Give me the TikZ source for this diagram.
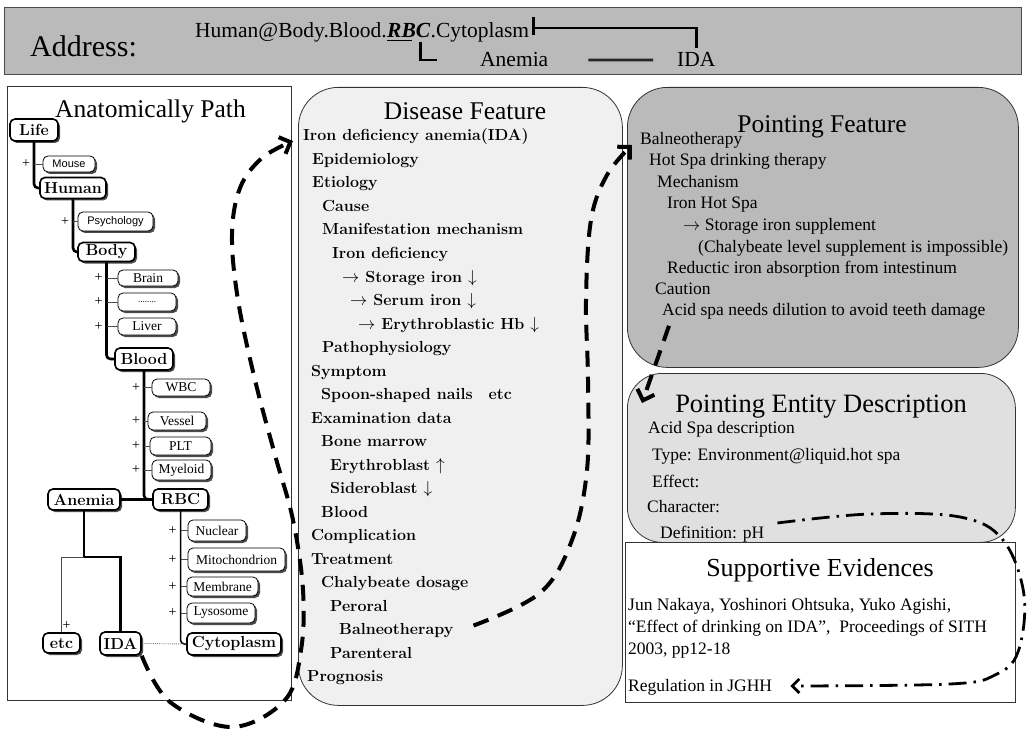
\documentclass[tikz,border=0pt]{standalone}
\usepackage{fontspec}
\newfontfamily\tms{Liberation Serif}
\newfontfamily\gth{Liberation Sans}
\usetikzlibrary{arrows.meta,shadows,calc}

\begin{document}
\begin{tikzpicture}[x=1pt,y=-1pt,
  panel/.style={draw=black!80, line width=0.8pt, inner sep=0pt, anchor=north west},
  nodeshadow/.style={drop shadow={shadow xshift=2pt, shadow yshift=-2pt, fill=black!70, opacity=1}},
  bignode/.style={draw, line width=1.6pt, rounded corners=5pt, fill=white, inner sep=0pt,
    font=\fontsize{16}{16}\selectfont\bfseries, nodeshadow},
  smallnode/.style={draw, line width=0.8pt, rounded corners=5pt, fill=white, inner sep=0pt,
    font=\tms\fontsize{13.5}{13.5}\selectfont, nodeshadow},
  sansnode/.style={smallnode, font=\gth\fontsize{11}{11}\selectfont},
  spine/.style={line width=2.6pt, rounded corners=4pt},
  branch/.style={line width=0.5pt, black!70},
  plussign/.style={font=\tms\fontsize{14}{14}\selectfont, inner sep=0pt},
  dtext/.style={anchor=base west, inner sep=0pt, font=\fontsize{16}{16}\selectfont\bfseries},
  ttext/.style={anchor=base west, inner sep=0pt, font=\tms\fontsize{17.5}{17.5}\selectfont},
  paneltitle/.style={anchor=base, inner sep=0pt, font=\tms\fontsize{25.5}{25.5}\selectfont},
  addrtext/.style={anchor=base west, inner sep=0pt, font=\tms\fontsize{21.5}{21.5}\selectfont},
  addrline/.style={line width=2.8pt},
  bigdash/.style={line width=4pt, dash pattern=on 16pt off 10pt,
    -{Straight Barb[length=9pt,width=18pt]}},
  dashdot/.style={line width=2.8pt, dash pattern=on 18pt off 7pt on 2.5pt off 7pt,
    -{Straight Barb[length=7pt,width=14pt]}}
]
\useasboundingbox (0,0) rectangle (1028,730);
\fill[white] (0,0) rectangle (1028,730);

% ---------- address bar ----------
\node[panel, draw=black!70, fill=black!27, minimum width=1017, minimum height=67] (addrbar) at (4,7) {};
\node[anchor=base west, inner sep=0pt, font=\tms\fontsize{30}{30}\selectfont] (addrlabel) at (30,57) {Address:};
\node[addrtext] (addr1) at (195,38) {Human@Body.Blood.};
\node[addrtext, font=\tms\fontsize{21.5}{21.5}\selectfont\bfseries\itshape] (arbc) at (addr1.base east) {RBC};
\node[addrtext] (addr2) at (arbc.base east) {.Cytoplasm};
\node[addrtext] (anA) at (480,67) {Anemia};
\node[addrtext] (idaA) at (677,67) {IDA};
\draw[line width=1.3pt] ($(arbc.base west)+(0,2.5)$) -- ($(arbc.base west)+(25,2.5)$);
\draw[addrline] ($(arbc.base east)+(-10,4)$) -- ($(arbc.base east)+(-10,22)$) -- ($(arbc.base east)+(7,22)$);
\draw[addrline] ($(addr2.base east)+(4,-21)$) -- ($(addr2.base east)+(4,-3)$);
\coordinate (tick) at ($(addr2.base east)+(4,-10)$);
\draw[addrline, shorten >=5pt] (tick) -| (idaA.north);
\draw[addrline, black!85, shorten <=40pt, shorten >=24pt] (anA.east) -- (idaA.west);

% ---------- panels ----------
\node[panel, minimum width=284, minimum height=614] (anat) at (7,86) {};
\node[panel, fill=black!6, rounded corners=40pt, minimum width=324, minimum height=618] (dis) at (298,87) {};
\node[panel, fill=black!27, rounded corners=40pt, minimum width=391, minimum height=280] (pf) at (627,87) {};
\node[panel, fill=black!12, rounded corners=35pt, minimum width=388, minimum height=169] (ed) at (627,373) {};
\node[panel, fill=white, minimum width=390, minimum height=160] (se) at (625,542) {};

\node[paneltitle] (anattitle) at (150.5,118) {Anatomically Path};
\node[paneltitle] (distitle) at (465,120) {Disease Feature};
\node[paneltitle] (pftitle) at (822,133) {Pointing Feature};
\node[paneltitle, font=\tms\fontsize{26.5}{26.5}\selectfont] (edtitle) at (821,412) {Pointing Entity Description};
\node[paneltitle, font=\tms\fontsize{26}{26}\selectfont] (setitle) at (820,576) {Supportive Evidences};

% ---------- anatomical tree ----------
\node[bignode, minimum width=48, minimum height=22] (life) at (34,130) {Life};
\node[sansnode, minimum width=52, minimum height=16] (mouse) at (69,164) {Mouse};
\node[bignode, minimum width=66, minimum height=21] (human) at (73,188) {Human};
\node[sansnode, minimum width=75, minimum height=19] (psych) at (115.5,221.5) {Psychology};
\node[bignode, minimum width=57, minimum height=19] (body) at (106.5,252) {Body};
\node[smallnode, minimum width=60, minimum height=16] (brain) at (148,278) {Brain};
\node[smallnode, minimum width=58, minimum height=18, font=\tms\fontsize{9}{9}\selectfont] (dots) at (147,302) {........};
\node[smallnode, minimum width=58, minimum height=17] (liver) at (147,326.5) {Liver};
\node[bignode, minimum width=58, minimum height=22] (blood) at (144,359) {Blood};
\node[smallnode, minimum width=58, minimum height=17] (wbc) at (181,387.5) {WBC};
\node[smallnode, minimum width=58, minimum height=18] (vessel) at (177,421) {Vessel};
\node[smallnode, minimum width=61, minimum height=18] (plt) at (180.5,446) {PLT};
\node[smallnode, minimum width=59, minimum height=20] (myeloid) at (181.5,470) {Myeloid};
\node[bignode, minimum width=72, minimum height=21] (anemia) at (84,499.5) {Anemia};
\node[bignode, minimum width=55, minimum height=21] (rbc) at (180.5,499.5) {RBC};
\node[smallnode, minimum width=58, minimum height=21] (nuclear) at (217,530.5) {Nuclear};
\node[smallnode, minimum width=97, minimum height=23] (mito) at (236.5,559.5) {Mitochondrion};
\node[smallnode, minimum width=71, minimum height=19] (membrane) at (222.5,586.5) {Membrane};
\node[smallnode, minimum width=68, minimum height=20] (lysosome) at (221,613) {Lysosome};
\node[bignode, minimum width=37, minimum height=20] (etc) at (61.5,643) {etc};
\node[bignode, minimum width=41, minimum height=23] (ida) at (120.5,643.5) {IDA};
\node[bignode, minimum width=94, minimum height=22] (cyto) at (234,644) {Cytoplasm};

% main path of the hierarchy
\draw[spine] (life.south) |- (human.west);
\draw[spine] (human.south) |- (body.west);
\draw[spine] (body.south) |- (blood.west);
\draw[spine] (blood.south) |- (rbc.west);
\draw[spine] (anemia.east) -- (rbc.west);
\draw[spine, line width=1.5pt] (rbc.south) |- (cyto.west);
\coordinate (fork) at (84,557);
\draw[spine, rounded corners=0pt] (anemia.south) -- (fork) -| (ida.north);
\draw[branch] (fork) -| (etc.north);
\draw[black!50, densely dotted, line width=0.9pt] (ida.east) -- (cyto.west);
\node[plussign] (petc) at ($(etc.north)+(5,-7)$) {+};

% side branches with their "+" markers
\foreach \n/\p in {mouse/life, psych/human, brain/body, dots/body, liver/body,
                   wbc/blood, vessel/blood, plt/blood, myeloid/blood,
                   nuclear/rbc, mito/rbc, membrane/rbc, lysosome/rbc}{
  \draw[branch] (\n.west -| \p.south) -- (\n.west);
  \node[plussign] (plus-\n) at ($(\n.west -| \p.south)+(-8,0)$) {+};
}

% ---------- disease feature ----------
\node[dtext] (d1) at (303,141) {Iron deficiency anemia(IDA)};
\node[dtext] (d2) at (312,164.5) {Epidemiology};
\node[dtext] (d3) at (312,188) {Etiology};
\node[dtext] (d4) at (322,211.5) {Cause};
\node[dtext] (d5) at (322,235) {Manifestation mechanism};
\node[dtext] (d6) at (332,258.5) {Iron deficiency};
\node[dtext] (d7) at (342,282) {$\rightarrow$ Storage iron $\downarrow$};
\node[dtext] (d8) at (350,305.5) {$\rightarrow$ Serum iron $\downarrow$};
\node[dtext] (d9) at (358,329) {$\rightarrow$ Erythroblastic Hb $\downarrow$};
\node[dtext] (d10) at (322,352.5) {Pathophysiology};
\node[dtext] (d11) at (311,376) {Symptom};
\node[dtext] (d12) at (321,399.5) {Spoon-shaped nails\quad etc};
\node[dtext] (d13) at (311,423) {Examination data};
\node[dtext] (d14) at (321,446.5) {Bone marrow};
\node[dtext] (d15) at (330,470) {Erythroblast $\uparrow$};
\node[dtext] (d16) at (330,493.5) {Sideroblast $\downarrow$};
\node[dtext] (d17) at (321,517) {Blood};
\node[dtext] (d18) at (311,540.5) {Complication};
\node[dtext] (d19) at (311,564) {Treatment};
\node[dtext] (d20) at (321,587.5) {Chalybeate dosage};
\node[dtext] (d21) at (330,611) {Peroral};
\node[dtext] (d22) at (339,634.5) {Balneotherapy};
\node[dtext] (d23) at (330,658) {Parenteral};
\node[dtext] (d24) at (307,681.5) {Prognosis};

% ---------- pointing feature ----------
\node[ttext] (p1) at (640,145) {Balneotherapy};
\node[ttext] (p2) at (649,166) {Hot Spa drinking therapy};
\node[ttext] (p3) at (657,188) {Mechanism};
\node[ttext] (p4) at (667,209) {Iron Hot Spa};
\node[ttext] (p5) at (683,230) {$\rightarrow$ Storage iron supplement};
\node[ttext] (p6) at (698,252) {(Chalybeate level supplement is impossible)};
\node[ttext] (p7) at (667,273) {Reductic iron absorption from intestinum};
\node[ttext] (p8) at (655,294) {Caution};
\node[ttext] (p9) at (662,315) {Acid spa needs dilution to avoid teeth damage};

% ---------- pointing entity description ----------
\node[ttext] (e1) at (648,433) {Acid Spa description};
\node[ttext] (e2) at (652,460) {Type: Environment@liquid.hot spa};
\node[ttext] (e3) at (652,487) {Effect:};
\node[ttext] (e4) at (647,512) {Character:};
\node[ttext] (e5) at (660,538) {Definition: pH};

% ---------- supportive evidences ----------
\node[ttext] (s1) at (628,610) {Jun Nakaya, Yoshinori Ohtsuka, Yuko Agishi,};
\node[ttext] (s2) at (628,632) {“Effect of drinking on IDA”,\ \ Proceedings of SITH};
\node[ttext] (s3) at (628,654) {2003, pp12-18};
\node[ttext] (s4) at (628,691) {Regulation in JGHH};

% ---------- cross references ----------
\coordinate (a1end) at ($(d1.base west)+(-10,0)$);
\draw[bigdash] plot[smooth, tension=0.6] coordinates {(ida.south east) (170,702) (232,727) (285,700)
  (301,650) (303,590) (293,520) (275,455) (255,380) (238,300) (232,235) (240,188) (262,158) (a1end)};

\coordinate (a2start) at ($(d22.east)+(20,-5)$);
\coordinate (a2end) at ($(p1.base west)+(-8,0)$);
\draw[bigdash] plot[smooth, tension=0.6] coordinates {(a2start) (540,593) (572,540) (587,470)
  (588,380) (586,300) (591,220) (607,175) (a2end)};

\coordinate (a3start) at ($(pf.south west)+(42,-42)$);
\coordinate (a3end) at ($(ed.north west)+(15,30)$);
\draw[bigdash] (a3start) -- (a3end);

\coordinate (a4start) at ($(e5.base east)+(13,-15)$);
\coordinate (a4end) at ($(s4.base east)+(18,-5)$);
\draw[dashdot] plot[smooth, tension=0.6] coordinates {(a4start) (870,514) (960,517) (1003,540)
  (1024,595) (1018,652) (995,675) (950,684) (a4end)};
\end{tikzpicture}
\end{document}
